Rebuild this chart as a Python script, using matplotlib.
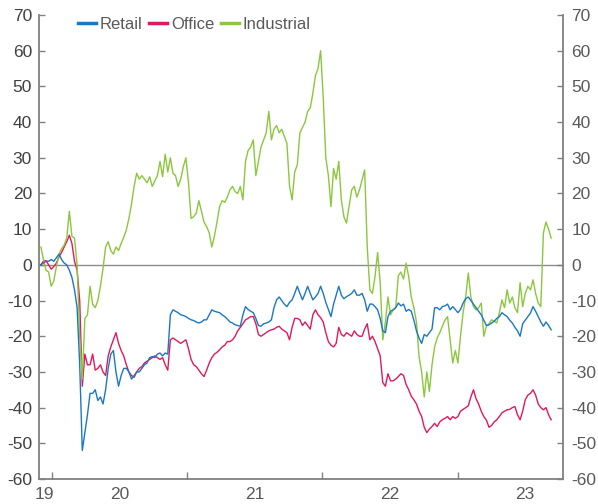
import matplotlib
matplotlib.use("Agg")
import matplotlib.pyplot as plt
import pandas as pd

plt.rcParams['font.family'] = ['Liberation Sans', 'DejaVu Sans']
plt.rcParams['axes.unicode_minus'] = False

# weekly readings, Dec 2019 - Sep 2023 (% change)
dates = pd.date_range('2019-12-02', periods=198, freq='7D')

retail = [
    0, 0.5, 1, 1, 1.5, 1, 2, 3, 1.5, 0.5,
    0, -1.5, -3.5, -7, -12, -28, -52, -47, -42, -36,
    -36, -35, -38, -37, -39, -35, -29, -25, -24, -30,
    -34, -31, -29, -29, -30, -32, -31, -30, -30, -29,
    -28, -27.5, -26, -25.7, -26, -25, -24.7, -25.5, -24.7, -25,
    -14, -12.6, -13, -13.4, -14, -14.2, -14.5, -15, -15.4, -15.6,
    -16, -16.3, -16, -15.4, -15.4, -14, -12.6, -13, -13.2, -13.4,
    -14, -14.5, -15.2, -16, -16.3, -16.8, -17, -17.2, -14, -11.7,
    -12.5, -13, -13.4, -15, -17, -17.2, -16.5, -16.3, -16, -15.4,
    -12, -9.8, -9, -10, -11, -11.7, -10.5, -9.8, -8, -6,
    -8, -9.8, -8, -6, -8, -9.8, -9, -8, -6, -8,
    -10.5, -12.5, -14.5, -11, -8.5, -6, -8.5, -9.5, -8.9, -8.5,
    -8, -7, -8.5, -8.5, -8, -9.8, -13, -11, -11, -11.7,
    -12.6, -15, -18.5, -19, -14.5, -13, -12.6, -12, -10.7, -11.5,
    -11, -13, -12.5, -13, -15.5, -18.5, -20.5, -22, -19.5, -20,
    -19, -18, -12, -12, -12.6, -11.7, -11.5, -11, -12.6, -11.7,
    -12.5, -13.4, -12.5, -10.7, -9.5, -9, -10, -11, -12, -13,
    -14, -15.5, -17, -16.8, -16.3, -15.8, -15, -14.5, -13.4, -14,
    -14.5, -15.5, -16.3, -17.5, -18.5, -20, -16.5, -15.5, -14.5, -13.5,
    -11.7, -13, -14.5, -16, -17.2, -16, -17, -18.2,
]

office = [
    0, 1, 1.2, 0, -1.2, -0.5, 0.5, 2.2, 3.5, 5,
    6.5, 8.3, 6, 1, -1.5, -10, -34, -25, -28, -28,
    -25, -29.5, -29, -28, -30, -31, -25.5, -23, -21, -19,
    -22, -24, -25.5, -28, -30, -31, -31.5, -30, -29, -28.5,
    -27.5, -27, -26.5, -26, -25.5, -26, -26.5, -26, -28, -29.5,
    -21, -20.5, -21, -21.5, -22, -21.5, -21, -23.5, -26.5, -28,
    -28.5, -29.5, -30.5, -31.3, -29.5, -27.5, -26, -25, -24.5, -23.8,
    -23, -22.5, -21.5, -21.5, -21, -20, -18.5, -17.5, -16.5, -15.4,
    -15, -14.5, -14.5, -16.5, -19.5, -20, -19.5, -19, -18.5, -18.2,
    -18, -17.5, -17.2, -18, -18.5, -19, -21, -17.5, -15, -15,
    -15.4, -17, -16, -17, -18, -14, -12.6, -14, -14.8, -16,
    -19, -21.5, -22.5, -23, -22, -17.5, -19.5, -20, -19, -19.5,
    -20, -18.5, -19.5, -20, -20, -18, -16.5, -21, -20, -21.5,
    -23.5, -25.5, -33, -34, -30.5, -32.5, -32.5, -32, -31.3, -30.5,
    -31, -33.5, -35, -36.8, -37.8, -39, -41, -42.5, -45.5, -47,
    -46, -45.3, -44.4, -45.3, -44, -43.4, -43, -42.5, -43.4, -42.5,
    -43, -42.5, -41, -40.5, -40, -39.5, -37, -35, -37.5, -39,
    -41, -42.5, -43.5, -45.5, -45, -44, -43.4, -42.5, -41.5, -41,
    -40.6, -40.5, -40, -39.7, -42, -43.4, -41, -37.8, -36.5, -36,
    -35, -36.5, -39, -40, -40.6, -40, -42, -43.4,
]

industrial = [
    5, 1.5, -1.5, -2, -6, -4.5, -0.5, 3, 4.5, 5.5,
    7.5, 15, 8, 7.5, 0, -20, -32, -15, -14, -6,
    -11, -12, -10, -6, -1, 5, 6.5, 4, 3, 5,
    4, 6, 7.7, 9.8, 13, 17, 22, 25.7, 24, 25,
    24, 23, 24.7, 22, 23.5, 25, 29, 24.7, 31, 26,
    30, 25.7, 25, 22, 24, 27.5, 30, 23, 13, 13.5,
    14.5, 18, 15, 12, 10.7, 9, 5, 8, 12, 16.3,
    18, 17.5, 19, 21, 22, 20.5, 20, 22, 18.2, 29,
    32, 33, 35, 25, 29, 33, 35, 37, 43, 35,
    38, 39, 37, 38, 36, 34, 22, 18.2, 26, 28,
    37, 38.5, 40, 43, 44, 48, 53, 55, 60, 47,
    30, 25, 16.3, 27, 24, 29, 18.2, 13.4, 11.7, 16.5,
    21, 22, 19, 21, 23.8, 26.6, 5, -7, -8, -3.3,
    3.5, -5, -21, -16, -9, -14, -12.6, -12, -3, -2,
    -4, 0.5, -3.3, -9, -12, -16, -25.7, -30, -37, -30,
    -35.5, -28, -23, -20.5, -19, -17.2, -15.5, -14.5, -21, -27.5,
    -24, -27.5, -20, -13.4, -9, -2.3, -9, -11.7, -12.6, -12,
    -10.7, -20, -17.2, -16.5, -15.4, -15.8, -16.3, -13.4, -9.8, -12,
    -7, -10.7, -9, -12, -13.4, -5, -11.7, -8, -6, -7,
    -4.2, -8, -10.7, -11.7, 9, 12, 10, 7.5,
]

year_labels = ['19', '20', '21', '22', '23']
label_pos = ['2019-12-12', '2020-07-01', '2021-07-01', '2022-07-01', '2023-07-01']
year_starts = ['2020-01-01', '2021-01-01', '2022-01-01', '2023-01-01']

fig = plt.figure(figsize=(5.98, 5.04), dpi=100)
ax = fig.add_axes([0.0652, 0.0496, 0.8763, 0.9206])

ax.axhline(0, color='#8c8c8c', lw=1, zorder=1)
ax.plot(dates, retail, color='#1a78c2', lw=1.0, label='Retail', zorder=3)
ax.plot(dates, office, color='#e0195a', lw=1.0, label='Office', zorder=2)
ax.plot(dates, industrial, color='#8cc63e', lw=1.0, label='Industrial', zorder=2)

ax.set_ylim(-60, 70)
ax.set_yticks(range(-60, 71, 10))
ax.set_xlim(pd.Timestamp('2019-11-27'), pd.Timestamp('2023-10-13'))

ax.set_xticks(pd.to_datetime(year_starts))
ax.set_xticklabels([])
ax.set_xticks(pd.to_datetime(label_pos), minor=True)
ax.set_xticklabels(year_labels, minor=True)
ax.tick_params(axis='x', which='major', direction='in', length=5, color='#808080', width=1)
ax.tick_params(axis='x', which='minor', length=0, pad=6, labelsize=12.5, labelcolor='#595959')
ax.tick_params(axis='y', direction='in', length=4, color='#808080', width=1,
               labelsize=12.5, labelcolor='#404040', pad=5)

for s in ['top', 'right']:
    ax.spines[s].set_visible(False)
for s in ['left', 'bottom']:
    ax.spines[s].set_color('#808080')
    ax.spines[s].set_linewidth(1.3)

ax2 = ax.twinx()
ax2.set_ylim(-60, 70)
ax2.set_yticks(range(-60, 71, 10))
ax2.tick_params(axis='y', direction='in', length=4, color='#808080', width=1,
                labelsize=12.5, labelcolor='#595959', pad=6)
for s in ['top', 'left', 'bottom']:
    ax2.spines[s].set_visible(False)
ax2.spines['right'].set_color('#808080')
ax2.spines['right'].set_linewidth(1.3)

leg = ax.legend(loc='upper left', bbox_to_anchor=(78 / 598, 1 - 17 / 504),
                bbox_transform=fig.transFigure, ncol=3, frameon=False,
                fontsize=12, handlelength=1.1, handletextpad=0.2,
                columnspacing=0.4, borderpad=0, borderaxespad=0)
for line in leg.get_lines():
    line.set_linewidth(2.5)
for t in leg.get_texts():
    t.set_color('#595959')

fig.savefig('out.png', dpi=100)
